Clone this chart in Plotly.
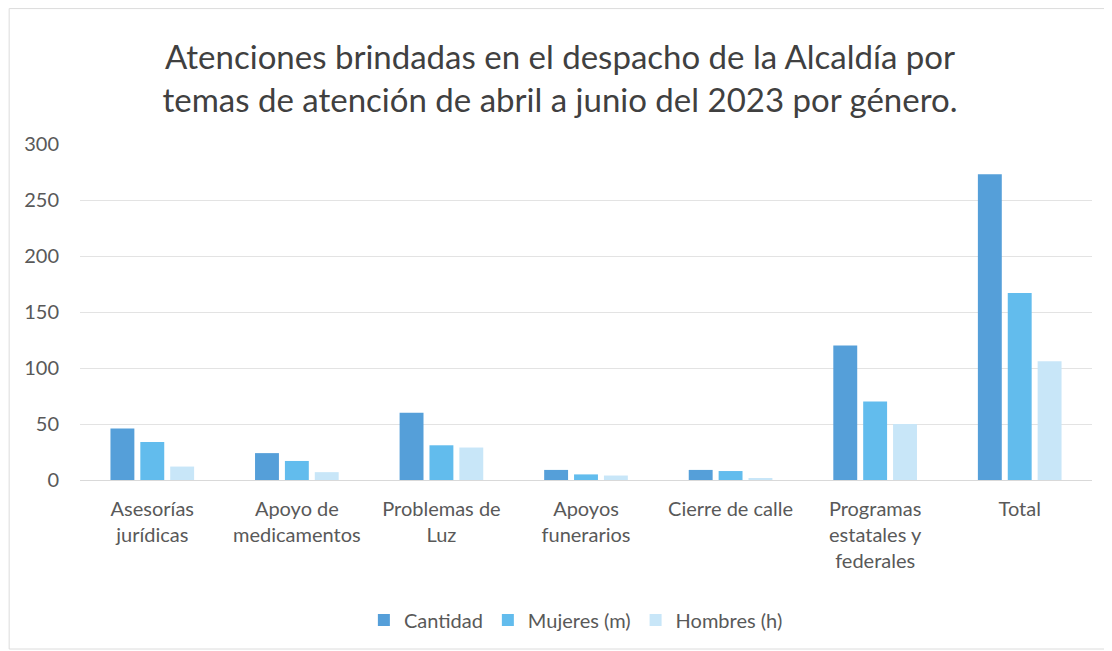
import plotly.graph_objects as go

# ── Data ──────────────────────────────────────────────────────────────────────

CATEGORIES = [
    "Asesorías<br>jurídicas",
    "Apoyo de<br>medicamentos",
    "Problemas de<br>Luz",
    "Apoyos<br>funerarios",
    "Cierre de calle",
    "Programas<br>estatales y<br>federales",
    "Total",
]
CANTIDAD = [46, 24, 60, 9, 9, 120, 273]
MUJERES = [34, 17, 31, 5, 8, 70, 167]
HOMBRES = [12, 7, 29, 4, 1, 50, 106]

Y_TICKS = [0, 50, 100, 150, 200, 250, 300]

TITLE = (
    "Atenciones brindadas en el despacho de la Alcaldía por<br>"
    "temas de atención de abril a junio del 2023 por género."
)

# ── Figure ────────────────────────────────────────────────────────────────────

FONT = "Lato, 'Open Sans', sans-serif"
TEXT_COLOR = "#595959"

# page body has an 8px margin, so the figure is shrunk to fit the window
W, H = 1104, 643

series = [
    ("Cantidad", CANTIDAD, "#559fd9"),
    ("Mujeres (m)", MUJERES, "#62bced"),
    ("Hombres (h)", HOMBRES, "#c8e6f8"),
]

fig = go.Figure()
for name, values, color in series:
    fig.add_trace(
        go.Bar(
            name=name,
            x=list(range(len(CATEGORIES))),
            y=values,
            marker=dict(color=color, line=dict(width=0)),
        )
    )

fig.update_layout(
    width=W,
    height=H,
    barmode="group",
    bargap=0.38,
    bargroupgap=0.2,
    paper_bgcolor="white",
    plot_bgcolor="white",
    font=dict(family=FONT, size=20, color=TEXT_COLOR),
    margin=dict(l=72, r=20, t=136, b=171),
    title=dict(
        text=TITLE,
        x=0.5,
        xanchor="center",
        xref="container",
        y=1 - 61 / H,
        yref="container",
        yanchor="middle",
        font=dict(family=FONT, size=33, color="#404040"),
    ),
    legend=dict(
        orientation="h",
        x=0.49,
        xanchor="center",
        y=-0.417,
        yanchor="middle",
        font=dict(size=20, color=TEXT_COLOR),
        itemwidth=30,
    ),
    shapes=[
        dict(
            type="rect",
            xref="paper",
            yref="paper",
            x0=-0.07,
            x1=1.016,
            y0=-0.503,
            y1=1.403,
            line=dict(color="#dcdcdc", width=1),
        )
    ],
)

fig.update_xaxes(
    tickmode="array",
    tickvals=list(range(len(CATEGORIES))),
    ticktext=CATEGORIES,
    range=[-0.5, len(CATEGORIES) - 0.5],
    showgrid=False,
    showline=True,
    linecolor="#d9d9d9",
    linewidth=1,
    ticks="",
    ticklabelstandoff=11,
    tickfont=dict(size=20, color=TEXT_COLOR),
)

fig.update_yaxes(
    range=[0, 300],
    tickvals=Y_TICKS,
    showgrid=True,
    gridcolor="#e3e3e3",
    gridwidth=1,
    zeroline=False,
    showline=False,
    ticks="",
    ticklabelstandoff=20,
    tickfont=dict(size=20, color=TEXT_COLOR),
)

fig.write_html("out.html")
